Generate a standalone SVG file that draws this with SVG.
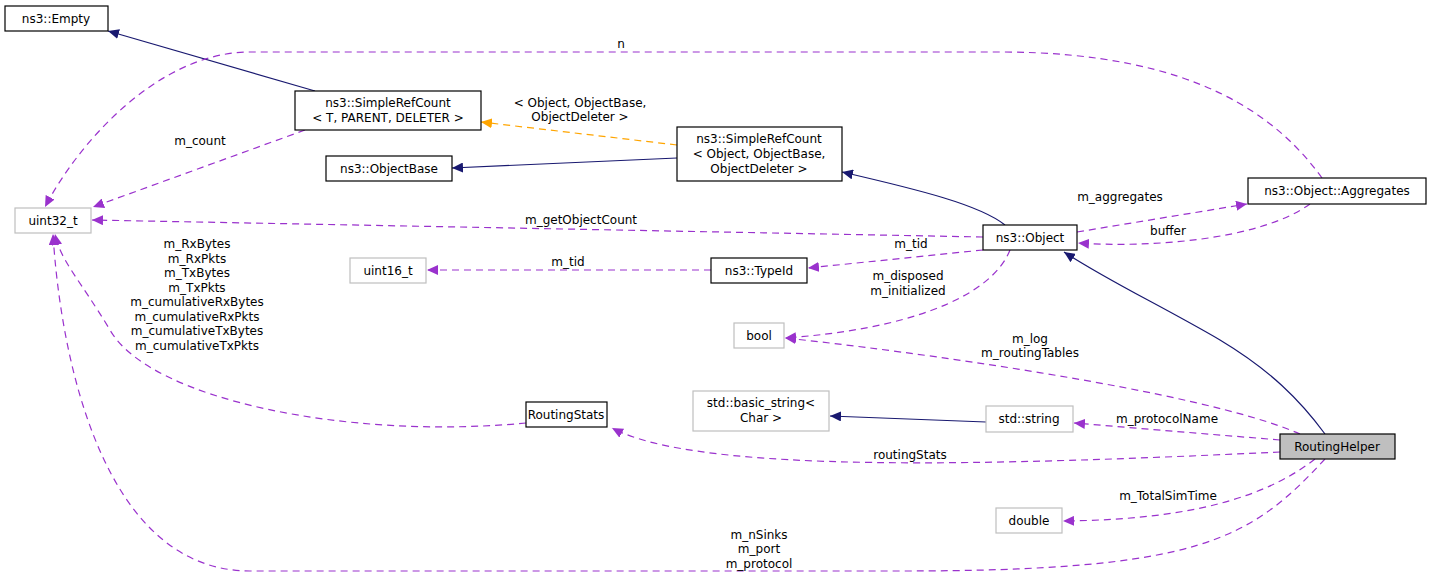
<svg xmlns="http://www.w3.org/2000/svg" width="1432" height="577" viewBox="0 0 1432 577">
<style>
text{font-family:"DejaVu Sans",sans-serif;font-size:12px;fill:#000;text-anchor:middle}
.n{fill:#fff;stroke:#000;stroke-width:1.2}
.g{fill:#fff;stroke:#bfbfbf;stroke-width:1.2}
.h{fill:#bfbfbf;stroke:#000;stroke-width:1.2}
.i{fill:none;stroke:#191970;stroke-width:1.2}
.d{fill:none;stroke:#9a32cd;stroke-width:1.2;stroke-dasharray:7,5}
.o{fill:none;stroke:#ffa500;stroke-width:1.2;stroke-dasharray:7,5}
</style>
<defs>
<marker id="mi" markerWidth="12" markerHeight="10" refX="11" refY="5" orient="auto" markerUnits="userSpaceOnUse"><path d="M0,0L11,5L0,10z" fill="#191970"/></marker>
<marker id="md" markerWidth="12" markerHeight="10" refX="11" refY="5" orient="auto" markerUnits="userSpaceOnUse"><path d="M0,0L11,5L0,10z" fill="#9a32cd"/></marker>
<marker id="mo" markerWidth="12" markerHeight="10" refX="11" refY="5" orient="auto" markerUnits="userSpaceOnUse"><path d="M0,0L11,5L0,10z" fill="#ffa500"/></marker>
</defs>
<g id="edges">
<path class="i" d="M315,91L108,31" marker-end="url(#mi)"/>
<path class="o" d="M677,145L481,122" marker-end="url(#mo)"/>
<text x="580" y="107">&lt; Object, ObjectBase,</text>
<text x="580" y="121">ObjectDeleter &gt;</text>
<path class="i" d="M677,158L452,168" marker-end="url(#mi)"/>
<path class="i" d="M1005,225C980,205 920,190 842,172" marker-end="url(#mi)"/>
<path class="i" d="M1325,434C1300,400 1270,370 1220,340C1160,305 1110,282 1064,252" marker-end="url(#mi)"/>
<path class="d" d="M1322,178C1280,120 1200,52 1000,52L250,52C160,52 80,140 45,207" marker-end="url(#md)"/>
<text x="621" y="48">n</text>
<path class="d" d="M305,130L93,207" marker-end="url(#md)"/>
<text x="200" y="145">m_count</text>
<path class="d" d="M983,237L92,220" marker-end="url(#md)"/>
<text x="581" y="224">m_getObjectCount</text>
<path class="d" d="M1077,232L1247,204" marker-end="url(#md)"/>
<text x="1120" y="201">m_aggregates</text>
<path class="d" d="M1310,204C1260,240 1150,248 1078,243" marker-end="url(#md)"/>
<text x="1168" y="235">buffer</text>
<path class="d" d="M983,250L808,268" marker-end="url(#md)"/>
<text x="911" y="248">m_tid</text>
<path class="d" d="M711,270L427,270" marker-end="url(#md)"/>
<text x="568" y="266">m_tid</text>
<path class="d" d="M1010,250C990,300 900,330 785,338" marker-end="url(#md)"/>
<text x="908" y="280">m_disposed</text>
<text x="908" y="295">m_initialized</text>
<path class="d" d="M1300,434C1200,390 900,350 785,338" marker-end="url(#md)"/>
<text x="1030" y="343">m_log</text>
<text x="1030" y="357">m_routingTables</text>
<path class="d" d="M526,423C350,440 150,400 110,330C80,280 60,260 55,234" marker-end="url(#md)"/>
<text x="197" y="248">m_RxBytes</text>
<text x="197" y="263">m_RxPkts</text>
<text x="197" y="277">m_TxBytes</text>
<text x="197" y="292">m_TxPkts</text>
<text x="197" y="306">m_cumulativeRxBytes</text>
<text x="197" y="321">m_cumulativeRxPkts</text>
<text x="197" y="335">m_cumulativeTxBytes</text>
<text x="197" y="350">m_cumulativeTxPkts</text>
<path class="d" d="M1280,440L1074,423" marker-end="url(#md)"/>
<text x="1167" y="423">m_protocolName</text>
<path class="i" d="M986,422L830,416" marker-end="url(#mi)"/>
<path class="d" d="M1280,452C1000,465 700,475 612,428" marker-end="url(#md)"/>
<text x="910" y="459">routingStats</text>
<path class="d" d="M1315,459C1250,510 1150,520 1063,521" marker-end="url(#md)"/>
<text x="1168" y="500">m_TotalSimTime</text>
<path class="d" d="M1325,459C1250,540 1200,571 900,571L250,571C100,571 60,350 53,234" marker-end="url(#md)"/>
<text x="759" y="539">m_nSinks</text>
<text x="759" y="553">m_port</text>
<text x="759" y="568">m_protocol</text>
</g>
<g id="empty"><rect class="n" x="5" y="6" width="103" height="25"/><text x="56" y="23">ns3::Empty</text></g>
<g id="srcT"><rect class="n" x="295" y="91" width="186" height="39"/><text x="388" y="107">ns3::SimpleRefCount</text><text x="388" y="122">&lt; T, PARENT, DELETER &gt;</text></g>
<g id="objectbase"><rect class="n" x="326" y="156" width="126" height="25"/><text x="389" y="173">ns3::ObjectBase</text></g>
<g id="srcObj"><rect class="n" x="677" y="127" width="165" height="54"/><text x="759" y="143">ns3::SimpleRefCount</text><text x="759" y="158">&lt; Object, ObjectBase,</text><text x="759" y="173">ObjectDeleter &gt;</text></g>
<g id="aggregates"><rect class="n" x="1248" y="178" width="178" height="26"/><text x="1337" y="195">ns3::Object::Aggregates</text></g>
<g id="uint32"><rect class="g" x="15" y="208" width="76" height="25"/><text x="53" y="225">uint32_t</text></g>
<g id="object"><rect class="n" x="983" y="225" width="94" height="25"/><text x="1030" y="242">ns3::Object</text></g>
<g id="uint16"><rect class="g" x="350" y="258" width="76" height="25"/><text x="388" y="275">uint16_t</text></g>
<g id="typeid"><rect class="n" x="711" y="258" width="96" height="25"/><text x="759" y="275">ns3::TypeId</text></g>
<g id="bool"><rect class="g" x="734" y="323" width="50" height="25"/><text x="759" y="340">bool</text></g>
<g id="routingstats"><rect class="n" x="526" y="402" width="81" height="25"/><text x="566" y="419">RoutingStats</text></g>
<g id="basicstring"><rect class="g" x="693" y="391" width="136" height="40"/><text x="761" y="407">std::basic_string&lt;</text><text x="761" y="422">Char &gt;</text></g>
<g id="stdstring"><rect class="g" x="986" y="406" width="87" height="26"/><text x="1029" y="423">std::string</text></g>
<g id="routinghelper"><rect class="h" x="1280" y="434" width="115" height="25"/><text x="1337" y="451">RoutingHelper</text></g>
<g id="double"><rect class="g" x="996" y="508" width="66" height="25"/><text x="1029" y="525">double</text></g>
</svg>
